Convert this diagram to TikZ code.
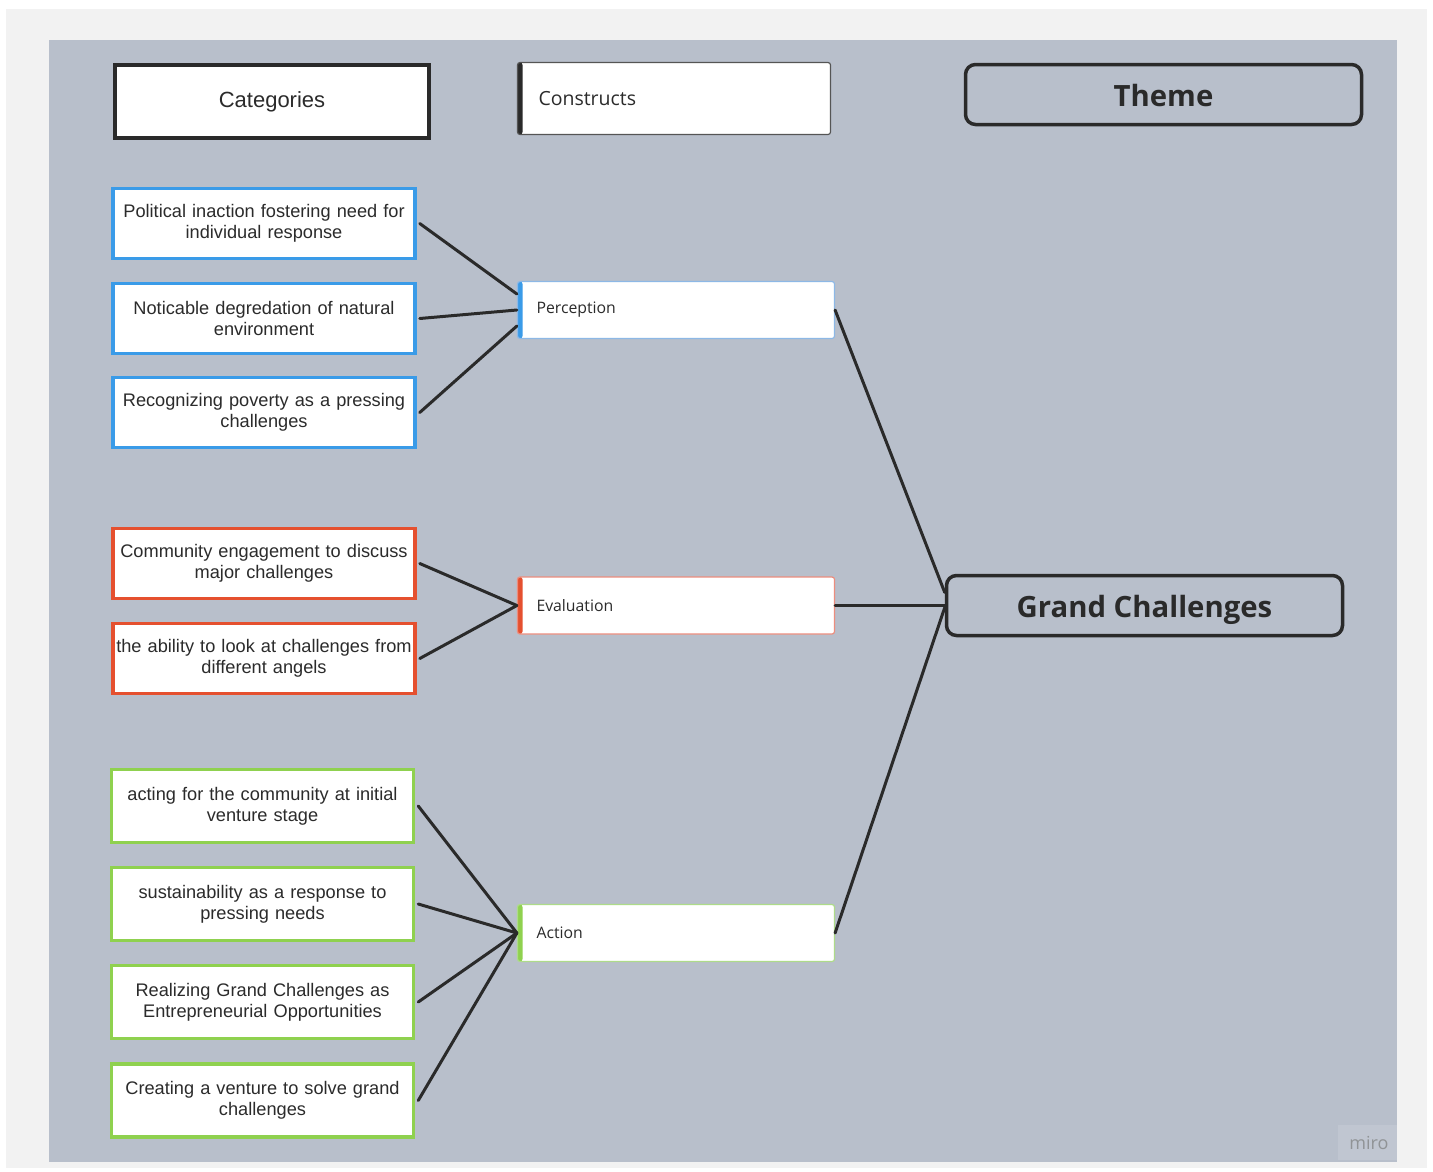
\documentclass[tikz,border=0pt]{standalone}
\usepackage{fontspec}
\setmainfont{Liberation Sans}
\newfontfamily\opensans{Open Sans}
\usetikzlibrary{calc}

\definecolor{pagegray}{HTML}{F2F2F2}
\definecolor{panel}{HTML}{B8BFCB}
\definecolor{ink}{HTML}{2A2A2A}
\definecolor{txt}{HTML}{2B2B2B}
\definecolor{mblue}{HTML}{3A9BE8}
\definecolor{mred}{HTML}{E5502F}
\definecolor{mgreen}{HTML}{8FD14F}
\definecolor{lblue}{HTML}{8DB8E6}
\definecolor{lred}{HTML}{EC8D7E}
\definecolor{lgreen}{HTML}{AEDB8A}

\tikzset{
  catbox/.style={draw=#1, line width=3.5pt, fill=white, inner sep=0pt,
    minimum width=298pt, minimum height=70pt, text width=302pt, align=center,
    text=txt, font=\fontsize{18.2}{21}\selectfont},
  headbox/.style={draw=ink, line width=4pt, fill=white, inner sep=0pt,
    minimum width=314pt, minimum height=73pt, align=center, text=txt,
    font=\fontsize{22}{25}\selectfont},
  constbox/.style 2 args={draw=#2, line width=1.2pt, fill=white, rounded corners=2.5pt,
    minimum width=317pt, minimum height=57pt, text width=279pt, inner xsep=19pt,
    inner ysep=0pt, align=left, text=txt, font=\opensans\fontsize{15.8}{19}\selectfont,
    path picture={\fill[#1] (path picture bounding box.north west) rectangle
      ([xshift=5pt]path picture bounding box.south west);}},
  themebox/.style={draw=ink, line width=3.5pt, rounded corners=10pt, inner sep=0pt,
    minimum width=396pt, minimum height=60pt, align=center, text=ink,
    text height=23pt, text depth=0pt,
    font=\opensans\bfseries\fontsize{29.3}{32}\selectfont},
  link/.style={draw=ink, line width=3pt, line cap=round}
}

\begin{document}
\begin{tikzpicture}[x=1pt,y=-1pt]
  % page and board
  \fill[white] (0,0) rectangle (1433,1171);
  \fill[pagegray] (6,9) rectangle (1427,1168);
  \fill[panel] (49,40) rectangle (1397,1162);
  \useasboundingbox (0,0) rectangle (1433,1171);

  % watermark
  \fill[white, opacity=0.12] (1338,1125) rectangle (1397,1160);
  \node[text=gray!70!panel, font=\opensans\fontsize{18}{20}\selectfont, inner sep=0pt]
    (miro) at (1369,1143) {miro};

  % column headers
  \node[headbox] (hcat) at (272,101.5) {Categories};
  \node[constbox={ink}{ink!80}, minimum width=313pt, minimum height=72pt,
        text width=271pt, inner xsep=21pt, font=\opensans\fontsize{19.5}{23}\selectfont]
    (hcon) at (674,98.5) {Constructs};
  \node[themebox] (htheme) at (1163.5,94.5) {Theme};

  % categories
  \node[catbox=mblue] (b1) at (264,223.5) {Political inaction fostering need for\\individual response};
  \node[catbox=mblue] (b2) at (264,318.5) {Noticable degredation of natural\\environment};
  \node[catbox=mblue] (b3) at (264,412.5) {Recognizing poverty as a pressing\\challenges};

  \node[catbox=mred] (r1) at (264,563.5) {Community engagement to discuss\\major challenges};
  \node[catbox=mred] (r2) at (264,658.5) {the ability to look at challenges from\\different angels};

  \node[catbox=mgreen, minimum width=296pt, minimum height=73pt] (g1) at (262.5,806) {acting for the community at initial\\venture stage};
  \node[catbox=mgreen, minimum width=296pt, minimum height=73pt] (g2) at (262.5,904) {sustainability as a response to\\pressing needs};
  \node[catbox=mgreen, minimum width=296pt, minimum height=73pt] (g3) at (262.5,1002) {Realizing Grand Challenges as\\Entrepreneurial Opportunities};
  \node[catbox=mgreen, minimum width=296pt, minimum height=73pt] (g4) at (262.5,1100.5) {Creating a venture to solve grand\\challenges};

  % constructs
  \node[constbox={mblue}{lblue}] (per) at (676,310) {Perception};
  \node[constbox={mred}{lred}] (eva) at (676,605.5) {Evaluation};
  \node[constbox={mgreen}{lgreen}] (act) at (676,933) {Action};

  % theme
  \node[themebox] (gc) at (1144.5,605.5) {Grand Challenges};

  % connectors: categories to constructs
  \draw[link] ([xshift=3pt]b1.east) -- ([yshift=16pt]per.west);
  \draw[link] ([xshift=3pt]b2.east) -- (per.west);
  \draw[link] ([xshift=3pt]b3.east) -- ([yshift=-16pt]per.west);

  \draw[link] ([xshift=3pt]r1.east) -- (eva.west);
  \draw[link] ([xshift=3pt]r2.east) -- (eva.west);

  \draw[link] ([xshift=3pt]g1.east) -- (act.west);
  \draw[link] ([xshift=3pt]g2.east) -- (act.west);
  \draw[link] ([xshift=3pt]g3.east) -- (act.west);
  \draw[link] ([xshift=3pt]g4.east) -- (act.west);

  % connectors: constructs to theme
  \draw[link] (per.east) -- ([yshift=13pt]gc.west);
  \draw[link] (eva.east) -- (gc.west);
  \draw[link] (act.east) -- ([yshift=-2pt]gc.west);
\end{tikzpicture}
\end{document}
